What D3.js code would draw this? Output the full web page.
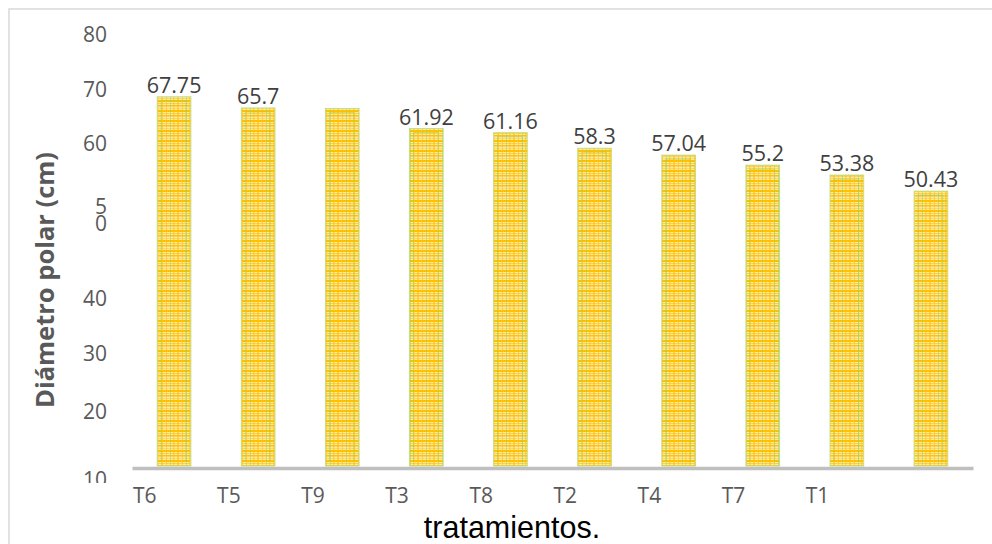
<!DOCTYPE html>
<html>
<head>
<meta charset="utf-8">
<script src="https://cdn.jsdelivr.net/npm/d3@7/dist/d3.min.js"></script>
<style>
  body { margin: 0; background: #fff; }
  svg { display: block; }
</style>
</head>
<body>
<script>
// categories and values
const categories = ["T6", "T5", "T9", "T3", "T8", "T2", "T4", "T7", "T1", ""];
const values = [67.75, 65.7, 65.6, 61.92, 61.16, 58.3, 57.04, 55.2, 53.38, 50.43];
const valueLabels = ["67.75", "65.7", "", "61.92", "61.16", "58.3", "57.04", "55.2", "53.38", "50.43"];

// y tick labels and the value where each one sits in the picture
const yTickLabels = ["80", "70", "60", "5\n0", "40", "30", "20", "10"];
const yTickAt = [79, 69, 59, 46, 30.6, 20.5, 10, -2.6];

const width = 992;
const height = 544;
const margin = ({top: 30, right: 19, bottom: 78, left: 132});

let svg = d3.select('body').append('svg')
    .attr('width', width)
    .attr('height', height);

// outer frame of the chart
svg.append("rect")
    .attr("x", 9)
    .attr("y", 9)
    .attr("width", width + 20)
    .attr("height", height + 20)
    .attr("fill", "#fff")
    .attr("stroke", "#d9d9d9")
    .attr("stroke-width", 1.5);

// plaid fill of the bars
let defs = svg.append("defs");
let pat = defs.append("pattern")
    .attr("id", "plaid")
    .attr("patternUnits", "userSpaceOnUse")
    .attr("width", 16)
    .attr("height", 10);
pat.append("rect").attr("width", 16).attr("height", 10).attr("fill", "#fde9a8");
pat.append("rect").attr("x", 0).attr("y", 0).attr("width", 16).attr("height", 2).attr("fill", "#ffc000");
pat.append("rect").attr("x", 0).attr("y", 3).attr("width", 16).attr("height", 1).attr("fill", "#fcd04a");
pat.append("rect").attr("x", 0).attr("y", 5).attr("width", 16).attr("height", 1.5).attr("fill", "#ffc10e");
pat.append("rect").attr("x", 0).attr("y", 8).attr("width", 16).attr("height", 1).attr("fill", "#fdd866");
pat.append("rect").attr("x", 1).attr("y", 0).attr("width", 2).attr("height", 10).attr("fill", "#ffc000").attr("opacity", 0.55);
pat.append("rect").attr("x", 6).attr("y", 0).attr("width", 1).attr("height", 10).attr("fill", "#fbbf14").attr("opacity", 0.6);
pat.append("rect").attr("x", 10).attr("y", 0).attr("width", 1).attr("height", 10).attr("fill", "#9fd25a").attr("opacity", 0.55);
pat.append("rect").attr("x", 13).attr("y", 0).attr("width", 1.5).attr("height", 10).attr("fill", "#ffc000").attr("opacity", 0.55);

defs.append("clipPath").attr("id", "tickclip")
    .append("rect").attr("x", 0).attr("y", 0).attr("width", margin.left).attr("height", 483);

// scales
var xScale = d3.scaleBand()
    .domain(d3.range(categories.length))
    .range([margin.left, width - margin.right])
    .paddingInner(0.6)
    .paddingOuter(0.3);

var yScale = d3.scaleLinear()
    .domain([0, 80])
    .range([height - margin.bottom, margin.top]);

// bars
svg.append("g").selectAll("rect")
    .data(values)
    .enter()
    .append("rect")
    .attr("x", (d, i) => xScale(i))
    .attr("y", d => yScale(d))
    .attr("width", xScale.bandwidth())
    .attr("height", d => yScale(0) - yScale(d))
    .attr("fill", "url(#plaid)")
    .attr("stroke", "#c4df86")
    .attr("stroke-width", 1);

// faint green lines inside each bar
svg.append("g").selectAll("path")
    .data(values)
    .enter()
    .append("path")
    .attr("d", (d, i) => {
        let x0 = xScale(i) + 4, x1 = xScale(i) + xScale.bandwidth() - 5;
        let y0 = yScale(d) + 4, y1 = yScale(0) - 4;
        return `M${x0},${y1}V${y0}H${x1}V${y1}`;
    })
    .attr("fill", "none")
    .attr("stroke", "#9fd45c")
    .attr("stroke-width", 1)
    .attr("opacity", 0.6);

// value labels
svg.append("g").selectAll("text")
    .data(values)
    .enter()
    .append("text")
    .attr("x", (d, i) => xScale(i) + xScale.bandwidth() / 2)
    .attr("y", d => yScale(d) - 4)
    .attr("text-anchor", "middle")
    .style("font-family", "'Open Sans', sans-serif")
    .style("font-size", "21.5px")
    .style("fill", "#404040")
    .text((d, i) => valueLabels[i]);

// x axis line
var xAxis = d3.axisBottom(xScale).tickSize(0).tickFormat("");
let gx = svg.append("g")
    .attr("transform", `translate(0,${yScale(0) + 2})`)
    .call(xAxis);
gx.select(".domain").attr("stroke", "#bfbfbf").attr("stroke-width", 3.5);

// category labels sit at the start of each band
svg.append("g").selectAll("text")
    .data(categories)
    .enter()
    .append("text")
    .attr("x", (d, i) => xScale(i) - xScale.step() * xScale.paddingOuter() + 1)
    .attr("y", 503)
    .attr("text-anchor", "start")
    .style("font-family", "'Open Sans', sans-serif")
    .style("font-size", "21px")
    .style("fill", "#595959")
    .text(d => d);

// y tick labels
let gy = svg.append("g").attr("clip-path", "url(#tickclip)");
yTickLabels.forEach(function(lab, i) {
    let lines = lab.split("\n");
    let t = gy.append("text")
        .attr("text-anchor", "end")
        .style("font-family", "'Open Sans', sans-serif")
        .style("font-size", "21px")
        .style("fill", "#595959");
    lines.forEach(function(s, j) {
        t.append("tspan")
            .attr("x", 107)
            .attr("y", yScale(yTickAt[i]) + 7 + (j - (lines.length - 1) / 2) * 17)
            .text(s);
    });
});

// axis titles
svg.append("text")
    .attr("transform", "translate(54,280) rotate(-90)")
    .attr("text-anchor", "middle")
    .style("font-family", "'Open Sans', sans-serif")
    .style("font-weight", "bold")
    .style("font-size", "25.5px")
    .style("fill", "#595959")
    .text("Diámetro polar (cm)");

svg.append("text")
    .attr("x", 512)
    .attr("y", 538)
    .attr("text-anchor", "middle")
    .style("font-family", "'Liberation Sans', Arial, sans-serif")
    .style("font-size", "30.5px")
    .style("fill", "#000")
    .text("tratamientos.");
</script>
</body>
</html>
